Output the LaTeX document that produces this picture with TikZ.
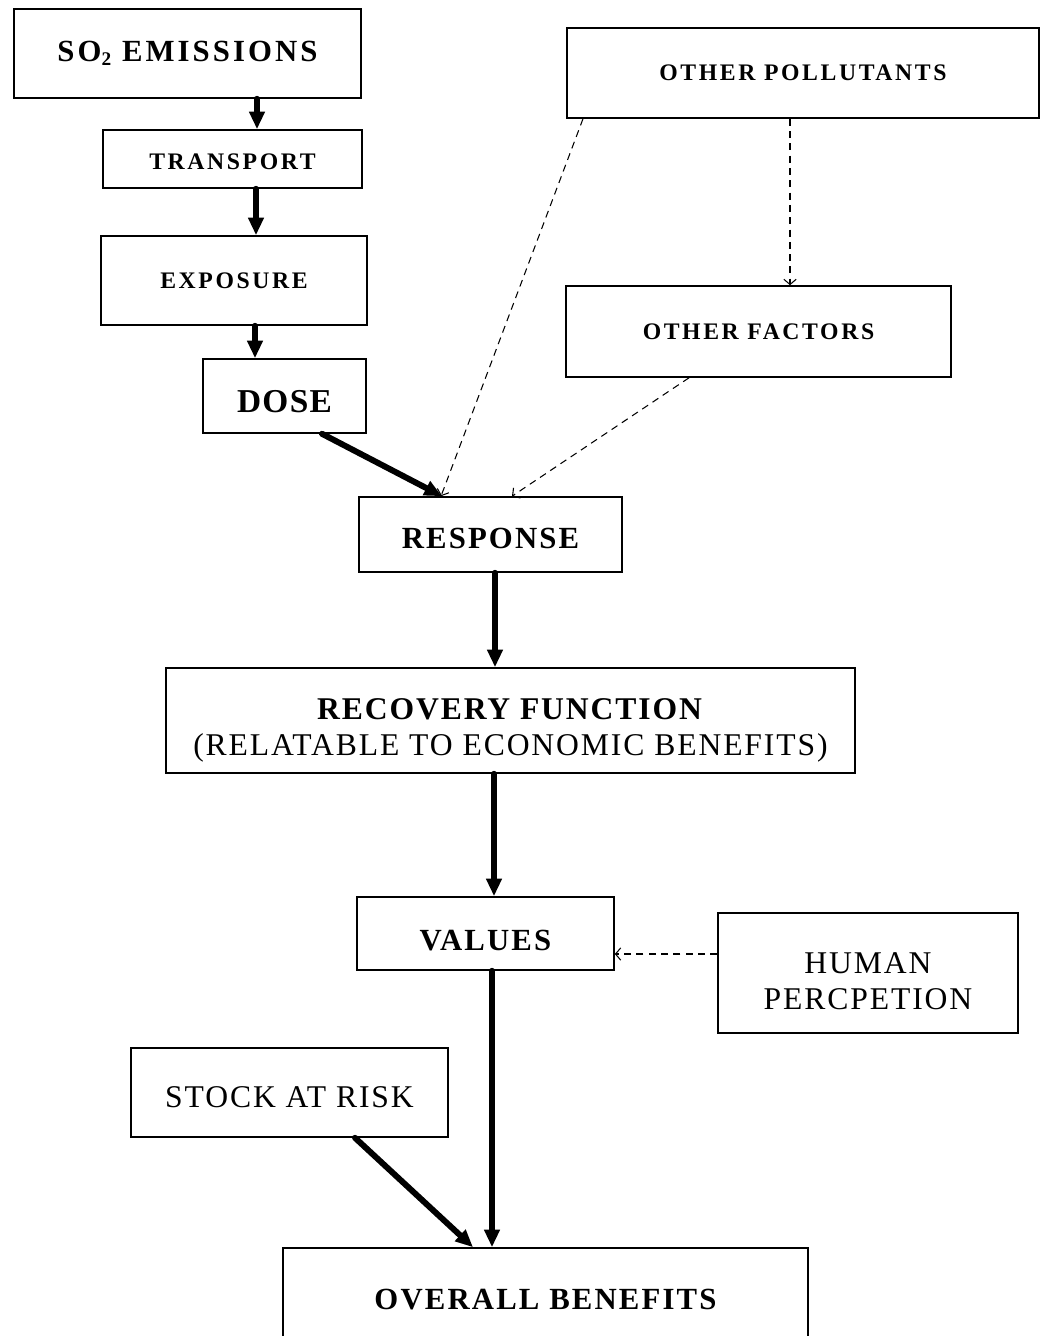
\documentclass[tikz,border=0pt]{standalone}
\usepackage{fontspec}
\setmainfont{Liberation Serif}
\usetikzlibrary{
    arrows.meta,
    positioning
}
\tikzset{
    % Boxes
    box/.style={draw, line width=0.9pt, inner sep=0pt, align=center},
    low text/.style={text height=#1, text depth=0pt},
    %
    % Text
    small label/.style={font=\fontsize{13.5}{15}\selectfont\bfseries\addfontfeatures{LetterSpace=11}},
    big label/.style={font=\fontsize{17.5}{20}\selectfont\bfseries\addfontfeatures{LetterSpace=7}},
    plain label/.style={font=\fontsize{18}{20.5}\selectfont\addfontfeatures{LetterSpace=6}},
    %
    % Arrows
    flow tip/.tip={Triangle[length=10pt,width=8.5pt]},
    dash tip/.tip={Straight Barb[length=3pt,width=7pt]},
    flow/.style={-{flow tip}, line width=3.4pt, line cap=round},
    influence/.style={-{dash tip}, line width=0.6pt, dash pattern=on 4pt off 3pt}
}

\begin{document}
\begin{tikzpicture}
    \useasboundingbox (0,0) rectangle (20.84,-26.72);

    % chain on the left
    \node[box, font=\fontsize{17.5}{20}\selectfont\bfseries\addfontfeatures{LetterSpace=10}, minimum width=6.94cm, minimum height=1.78cm] (so2) at (3.75,-1.07) {SO\raisebox{-0.25ex}{\fontsize{11}{11}\selectfont 2} EMISSIONS};
    \node[box, small label, low text=12.3pt, minimum width=5.18cm, minimum height=1.16cm] (transport) at (4.65,-3.18) {TRANSPORT};
    \node[box, small label, minimum width=5.32cm, minimum height=1.78cm] (exposure) at (4.68,-5.61) {EXPOSURE};
    \node[box, font=\fontsize{19}{20}\selectfont\bfseries\addfontfeatures{LetterSpace=4}, low text=19.3pt, minimum width=3.26cm, minimum height=1.48cm] (dose) at (5.69,-7.92) {DOSE};

    % right hand side
    \node[box, small label, minimum width=9.44cm, minimum height=1.80cm] (pollutants) at (16.06,-1.46) {OTHER POLLUTANTS};
    \node[box, small label, minimum width=7.70cm, minimum height=1.82cm] (factors) at (15.17,-6.63) {OTHER FACTORS};

    % main column
    \node[box, big label, low text=15.6pt, minimum width=5.26cm, minimum height=1.50cm] (response) at (9.81,-10.69) {RESPONSE};
    \node[box, plain label, low text=40pt, minimum width=13.78cm, minimum height=2.10cm] (recovery) at (10.21,-14.41) {\textbf{RECOVERY FUNCTION}\\(RELATABLE TO ECONOMIC BENEFITS)};
    \node[box, big label, low text=19pt, minimum width=5.14cm, minimum height=1.46cm] (values) at (9.71,-18.67) {VALUES};
    \node[box, plain label, low text=41.5pt, minimum width=6.00cm, minimum height=2.40cm] (perception) at (17.36,-19.46) {HUMAN\\PERCPETION};
    \node[box, plain label, low text=17pt, minimum width=6.34cm, minimum height=1.78cm] (stock) at (5.79,-21.85) {STOCK AT RISK};
    \node[box, big label, minimum width=10.50cm, minimum height=2.08cm] (overall) at (10.91,-26.00) {OVERALL BENEFITS};

    % thick arrows
    \draw[flow] (so2.south -| 5.14,0) -- (transport.north -| 5.14,0);
    \draw[flow] (transport.south -| 5.12,0) -- (exposure.north -| 5.12,0);
    \draw[flow] (exposure.south -| 5.10,0) -- (dose.north -| 5.10,0);
    \draw[flow] (dose.south -| 6.44,0) -- (response.north -| 8.84,0);
    \draw[flow] (response.south -| 9.90,0) -- (recovery.north -| 9.90,0);
    \draw[flow] (recovery.south -| 9.88,0) -- (values.north -| 9.88,0);
    \draw[flow] (values.south -| 9.84,0) -- (overall.north -| 9.84,0);
    \draw[flow] (stock.south -| 7.10,0) -- (overall.north -| 9.46,0);

    % dashed influences
    \draw[influence] (pollutants.south -| 11.66,0) -- (response.north -| 8.82,0);
    \draw[influence] (pollutants.south -| 15.80,0) -- (factors.north -| 15.80,0);
    \draw[influence] (factors.south -| 13.78,0) -- (response.north -| 10.24,0);
    \draw[influence] (perception.west |- 0,-19.08) -- (values.east |- 0,-19.08);
\end{tikzpicture}
\end{document}
